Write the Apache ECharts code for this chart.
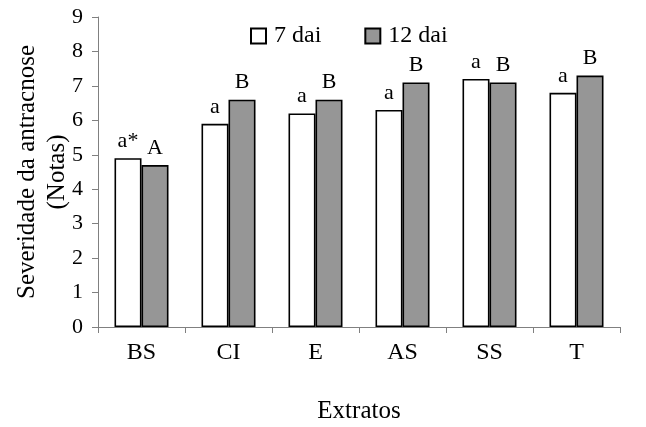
<!DOCTYPE html>
<html><head><meta charset="utf-8">
<script src="https://cdn.jsdelivr.net/npm/echarts@6/dist/echarts.min.js"></script>
<style>html,body{margin:0;padding:0;background:#fff}#c{width:646px;height:427px}</style>
</head><body><div id="c"></div>
<script>
var categories = ['BS', 'CI', 'E', 'AS', 'SS', 'T'];
var dai7 = [4.9, 5.9, 6.2, 6.3, 7.2, 6.8];
var dai12 = [4.7, 6.6, 6.6, 7.1, 7.1, 7.3];
var letters7 = ['a*', 'a', 'a', 'a', 'a', 'a'];
var letters12 = ['A', 'B', 'B', 'B', 'B', 'B'];
var yTicks = [0, 1, 2, 3, 4, 5, 6, 7, 8, 9];

var font = 'Liberation Serif';
var chart = echarts.init(document.getElementById('c'));
function lab(arr) {
  return {
    show: true, position: 'top', distance: 6,
    fontFamily: font, fontSize: 22, color: '#000',
    formatter: function (p) { return arr[p.dataIndex]; }
  };
}
chart.setOption({
  animation: false,
  grid: { left: 98, right: 26, top: 17, bottom: 100, containLabel: false, outerBoundsMode: 'none' },
  legend: {
    top: 19, left: 245, itemWidth: 15, itemHeight: 15, itemGap: 43,
    icon: 'rect',
    textStyle: { fontFamily: font, fontSize: 24, color: '#000', padding: [0, 0, 0, 3] },
    data: ['7 dai', '12 dai']
  },
  xAxis: {
    type: 'category', data: categories,
    name: 'Extratos', nameLocation: 'middle', nameGap: 72,
    nameTextStyle: { fontFamily: font, fontSize: 25, color: '#000' },
    axisLine: { lineStyle: { color: '#808080', width: 1 } },
    axisTick: { show: true, length: 6, lineStyle: { color: '#808080' } },
    axisLabel: { fontFamily: font, fontSize: 24, color: '#000', margin: 14 }
  },
  yAxis: {
    type: 'value', min: yTicks[0], max: yTicks[yTicks.length - 1], interval: 1,
    name: 'Severidade da antracnose\n(Notas)', nameLocation: 'middle', nameGap: 26,
    nameMoveOverlap: false,
    nameTextStyle: { fontFamily: font, fontSize: 25, color: '#000', lineHeight: 30 },
    axisLine: { show: true, lineStyle: { color: '#808080', width: 1 } },
    axisTick: { show: true, length: 6, lineStyle: { color: '#808080' } },
    axisLabel: { fontFamily: font, fontSize: 22, color: '#000', margin: 15 },
    splitLine: { show: false }
  },
  series: [
    {
      name: '7 dai', type: 'bar', data: dai7, barWidth: 27, barGap: '0%',
      itemStyle: { color: '#ffffff', borderColor: '#000', borderWidth: 1.6 },
      label: lab(letters7)
    },
    {
      name: '12 dai', type: 'bar', data: dai12, barWidth: 27, barGap: '0%',
      itemStyle: { color: '#969696', borderColor: '#000', borderWidth: 1.6 },
      label: lab(letters12)
    }
  ]
});
</script></body></html>
